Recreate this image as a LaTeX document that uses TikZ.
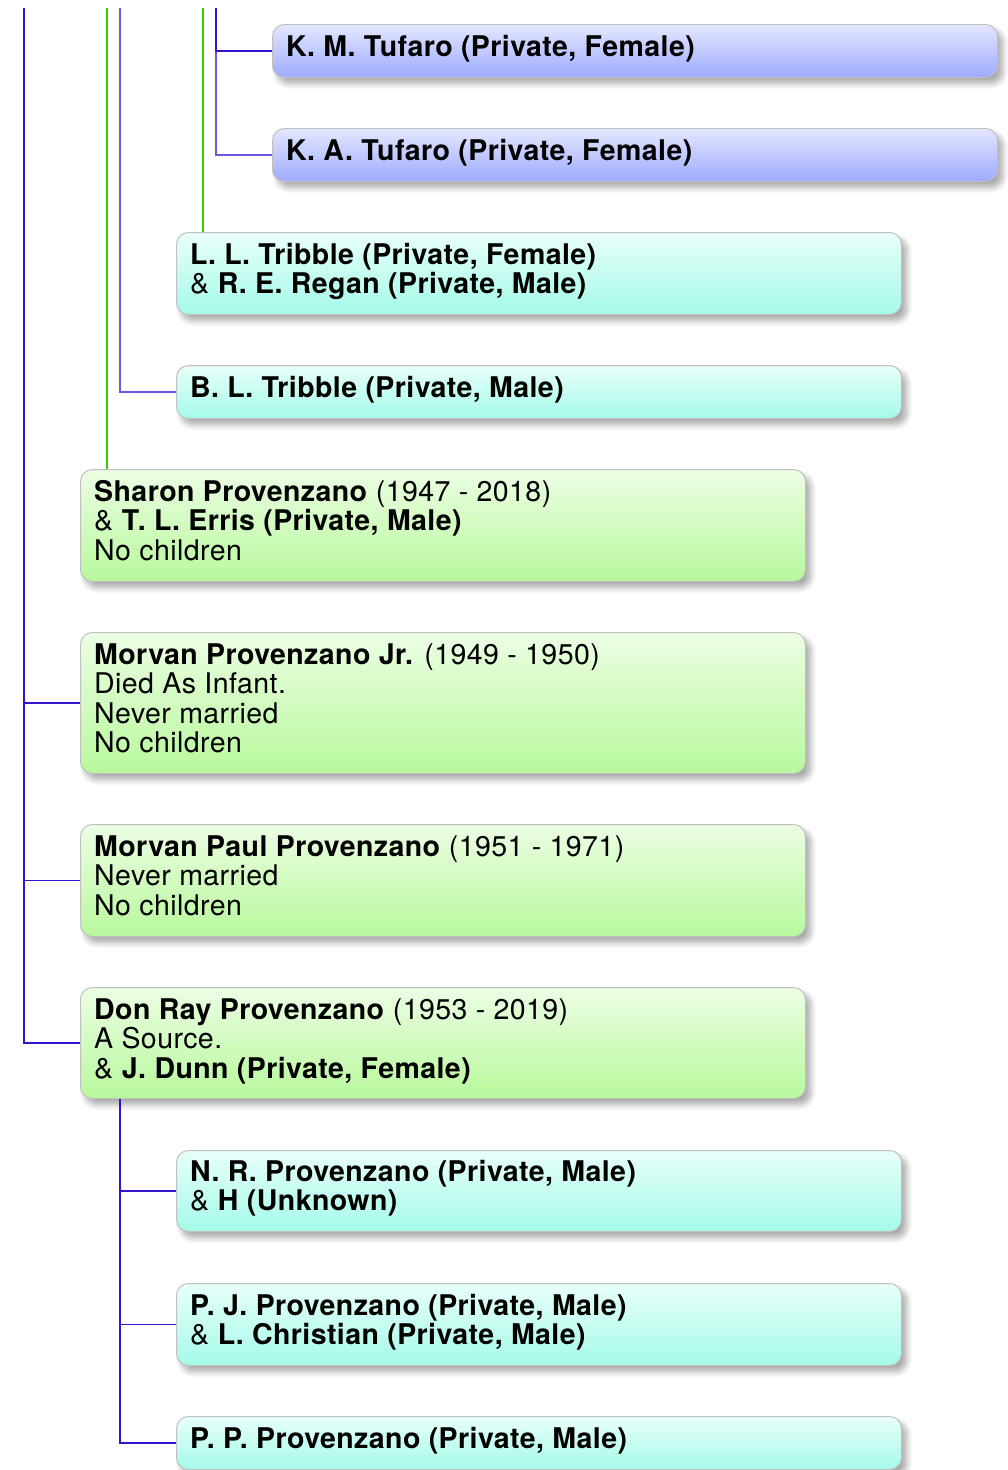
\documentclass[tikz,border=0pt]{standalone}
\usepackage{fontspec}
\setmainfont{TeX Gyre Heros}[LetterSpace=1.5]
\usetikzlibrary{shadows.blur}
\definecolor{boxborder}{RGB}{192,192,192}
\definecolor{bluetop}{RGB}{228,231,255}
\definecolor{bluebot}{RGB}{158,171,255}
\definecolor{cyantop}{RGB}{232,255,250}
\definecolor{cyanbot}{RGB}{164,250,232}
\definecolor{greentop}{RGB}{236,254,228}
\definecolor{greenbot}{RGB}{184,248,156}
\definecolor{linkblue}{RGB}{58,16,208}
\definecolor{linkpurple}{RGB}{110,86,224}
\definecolor{linkgreen}{RGB}{51,204,0}
\tikzset{
  boxbase/.style={draw=boxborder, line width=1pt, rounded corners=12pt,
    anchor=north west, inner sep=0pt, minimum width=725pt,
    blur shadow={shadow xshift=5pt, shadow yshift=-6pt, shadow blur radius=6pt,
      shadow blur steps=10, shadow opacity=35}},
  bluebox/.style={boxbase, top color=bluetop, bottom color=bluebot},
  cyanbox/.style={boxbase, top color=cyantop, bottom color=cyanbot},
  greenbox/.style={boxbase, top color=greentop, bottom color=greenbot},
  txt/.style={anchor=base west, inner sep=0pt, align=left,
    font=\fontsize{28.5}{29.5}\selectfont},
  bluelink/.style={draw=linkblue, line width=1.5pt},
  purplelink/.style={draw=linkpurple, line width=1.5pt},
  greenlink/.style={draw=linkgreen, line width=1.3pt},
}
\begin{document}
\begin{tikzpicture}[x=1pt,y=-1pt]
\useasboundingbox (0,0) rectangle (1008,1470);
% boxes
\node[bluebox, minimum height=53pt] (km) at (272,24) {};
\node[bluebox, minimum height=53pt] (ka) at (272,128) {};
\node[cyanbox, minimum height=82pt] (ll) at (176,232) {};
\node[cyanbox, minimum height=53pt] (bl) at (176,365) {};
\node[greenbox, minimum height=112pt] (sh) at (80,469) {};
\node[greenbox, minimum height=141pt] (mj) at (80,632) {};
\node[greenbox, minimum height=112pt] (mp) at (80,824) {};
\node[greenbox, minimum height=111pt] (dr) at (80,987) {};
\node[cyanbox, minimum height=81pt] (nr) at (176,1150) {};
\node[cyanbox, minimum height=82pt] (pj) at (176,1283) {};
\node[cyanbox, minimum height=53pt] (pp) at (176,1416) {};
% texts (anchor = baseline of the last line)
\node[txt] (kmt) at (286,56) {\textbf{K. M. Tufaro (Private, Female)}};
\node[txt] (kat) at (286,160) {\textbf{K. A. Tufaro (Private, Female)}};
\node[txt] (llt) at (190,293.5) {\textbf{L. L. Tribble (Private, Female)}\\\& \textbf{R. E. Regan (Private, Male)}};
\node[txt] (blt) at (190,397) {\textbf{B. L. Tribble (Private, Male)}};
\node[txt] (sht) at (94,560) {\textbf{Sharon Provenzano} (1947 - 2018)\\\& \textbf{T. L. Erris (Private, Male)}\\No children};
\node[txt] (mjt) at (94,752.5) {\textbf{Morvan Provenzano Jr.} (1949 - 1950)\\Died As Infant.\\Never married\\No children};
\node[txt] (mpt) at (94,915) {\textbf{Morvan Paul Provenzano} (1951 - 1971)\\Never married\\No children};
\node[txt] (drt) at (94,1078) {\textbf{Don Ray Provenzano} (1953 - 2019)\\A Source.\\\& \textbf{J. Dunn (Private, Female)}};
\node[txt] (nrt) at (190,1210.5) {\textbf{N. R. Provenzano (Private, Male)}\\\& \textbf{H (Unknown)}};
\node[txt] (pjt) at (190,1344.5) {\textbf{P. J. Provenzano (Private, Male)}\\\& \textbf{L. Christian (Private, Male)}};
\node[txt] (ppt) at (190,1448) {\textbf{P. P. Provenzano (Private, Male)}};
% connector origins
\coordinate (a24) at (24,8);
\coordinate (a107) at (107,8);
\coordinate (a120) at (120,8);
\coordinate (a203) at (203,8);
\coordinate (a216) at (216,8);
% connectors
\draw[bluelink] (a24) |- (mj.west);
\draw[bluelink] (a24) |- (mp.west);
\draw[bluelink] (a24) |- (dr.west);
\draw[greenlink] (a107) -- (a107 |- sh.north);
\draw[purplelink] (a120) |- (bl.west);
\draw[greenlink] (a203) -- (a203 |- ll.north);
\draw[purplelink] (a216) |- (ka.west);
\draw[bluelink] (a216) |- (km.west);
\draw[bluelink] (dr.south -| a120) |- (nr.west);
\draw[bluelink] (dr.south -| a120) |- (pj.west);
\draw[bluelink] (dr.south -| a120) |- (pp.west);
\end{tikzpicture}
\end{document}
